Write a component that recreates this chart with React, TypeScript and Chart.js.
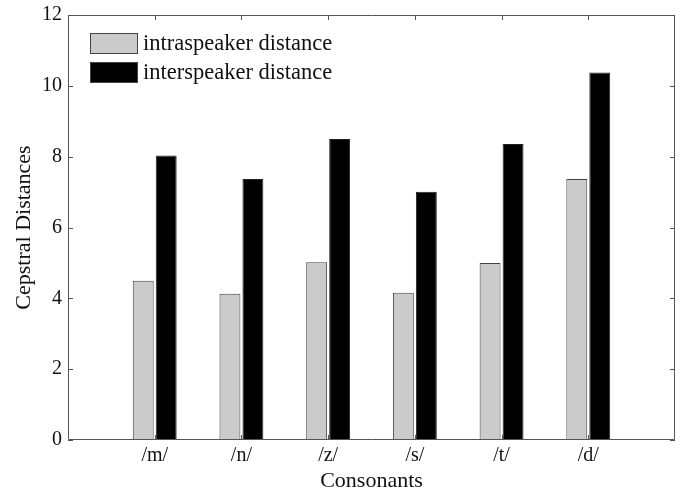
import React, { useEffect, useRef } from "react";
import { Chart, registerables } from "chart.js";

Chart.register(...registerables);

const categories = ["", "/m/", "/n/", "/z/", "/s/", "/t/", "/d/", ""];
const intraValues = [null, 4.5, 4.13, 5.02, 4.16, 5.0, 7.37, null];
const interValues = [null, 8.03, 7.37, 8.5, 7.01, 8.36, 10.38, null];
const yTicks = [0, 2, 4, 6, 8, 10, 12];
const seriesNames = ["intraspeaker distance", "interspeaker distance"];

const FONT = "'Liberation Serif', 'Times New Roman', serif";

const boxPlugin = {
  id: "matlabBox",
  afterDatasetsDraw(chart: any) {
    const { ctx, chartArea } = chart;
    const { left, right, top, bottom } = chartArea;
    const xs = chart.scales.x;
    const ys = chart.scales.y;
    ctx.save();
    ctx.strokeStyle = "#555";
    ctx.lineWidth = 1;
    ctx.beginPath();
    ctx.rect(left + 0.5, top + 0.5, right - left - 1, bottom - top - 1);
    ctx.stroke();
    const tl = 5;
    ctx.beginPath();
    for (let i = 1; i < categories.length - 1; i++) {
      const px = Math.round(xs.getPixelForValue(i)) + 0.5;
      ctx.moveTo(px, bottom);
      ctx.lineTo(px, bottom - tl);
      ctx.moveTo(px, top);
      ctx.lineTo(px, top + tl);
    }
    for (const v of yTicks) {
      const py = Math.round(ys.getPixelForValue(v)) + 0.5;
      ctx.moveTo(left, py);
      ctx.lineTo(left + tl, py);
      ctx.moveTo(right, py);
      ctx.lineTo(right - tl, py);
    }
    ctx.stroke();

    // legend
    const lx = left + 22;
    const ly = top + 18;
    const bw = 48;
    const bh = 21;
    const gap = 29;
    const fills = ["#cbcbcb", "#000000"];
    ctx.font = `22.5px ${FONT}`;
    ctx.textBaseline = "middle";
    ctx.textAlign = "left";
    for (let i = 0; i < 2; i++) {
      const y = ly + i * gap;
      ctx.fillStyle = fills[i];
      ctx.fillRect(lx, y, bw, bh);
      ctx.strokeStyle = "#444";
      ctx.strokeRect(lx + 0.5, y + 0.5, bw - 1, bh - 1);
      ctx.fillStyle = "#111";
      ctx.fillText(seriesNames[i], lx + bw + 5, y + bh / 2 + 1);
    }
    ctx.restore();
  },
};

export default function App() {
  const ref = useRef<HTMLCanvasElement | null>(null);
  useEffect(() => {
    if (!ref.current) return;
    const chart = new Chart(ref.current, {
      type: "bar",
      data: {
        labels: categories,
        datasets: [
          {
            label: seriesNames[0],
            data: intraValues as any,
            backgroundColor: "#cbcbcb",
            borderColor: "#444",
            borderWidth: 1,
            categoryPercentage: 0.53,
            barPercentage: 0.91,
          },
          {
            label: seriesNames[1],
            data: interValues as any,
            backgroundColor: "#000000",
            borderColor: "#222",
            borderWidth: 1,
            categoryPercentage: 0.53,
            barPercentage: 0.91,
          },
        ],
      },
      options: {
        responsive: false,
        animation: false,
        layout: { padding: { top: 15, right: 5, left: 0, bottom: 0 } },
        plugins: { legend: { display: false }, tooltip: { enabled: false } },
        scales: {
          x: {
            type: "category",
            offset: false,
            grid: { display: false, drawTicks: false },
            border: { display: false },
            ticks: {
              autoSkip: false,
              maxRotation: 0,
              padding: 4,
              color: "#111",
              font: { family: FONT, size: 20 },
            },
            title: {
              display: true,
              text: "Consonants",
              color: "#111",
              font: { family: FONT, size: 22, lineHeight: 1 },
              padding: { top: 0, bottom: 1 },
            },
            afterFit: (s: any) => {
              s.height = 53;
              s.paddingLeft = 0;
              s.paddingRight = 0;
            },
          },
          y: {
            min: 0,
            max: 12,
            grid: { display: false, drawTicks: false },
            border: { display: false },
            ticks: {
              stepSize: 2,
              padding: 6,
              color: "#111",
              font: { family: FONT, size: 20 },
            },
            title: {
              display: true,
              text: "Cepstral Distances",
              color: "#111",
              font: { family: FONT, size: 22, lineHeight: 1.2 },
              padding: { top: 11, bottom: 0 },
            },
            afterFit: (s: any) => {
              s.width = 68;
              s.paddingTop = 0;
              s.paddingBottom = 0;
            },
          },
        },
      },
      plugins: [boxPlugin],
    });
    return () => chart.destroy();
  }, []);
  return (
    <div style={{ position: "absolute", left: 0, top: 0, width: 680, height: 493, background: "#fff" }}>
      <canvas ref={ref} width={680} height={493} />
    </div>
  );
}
